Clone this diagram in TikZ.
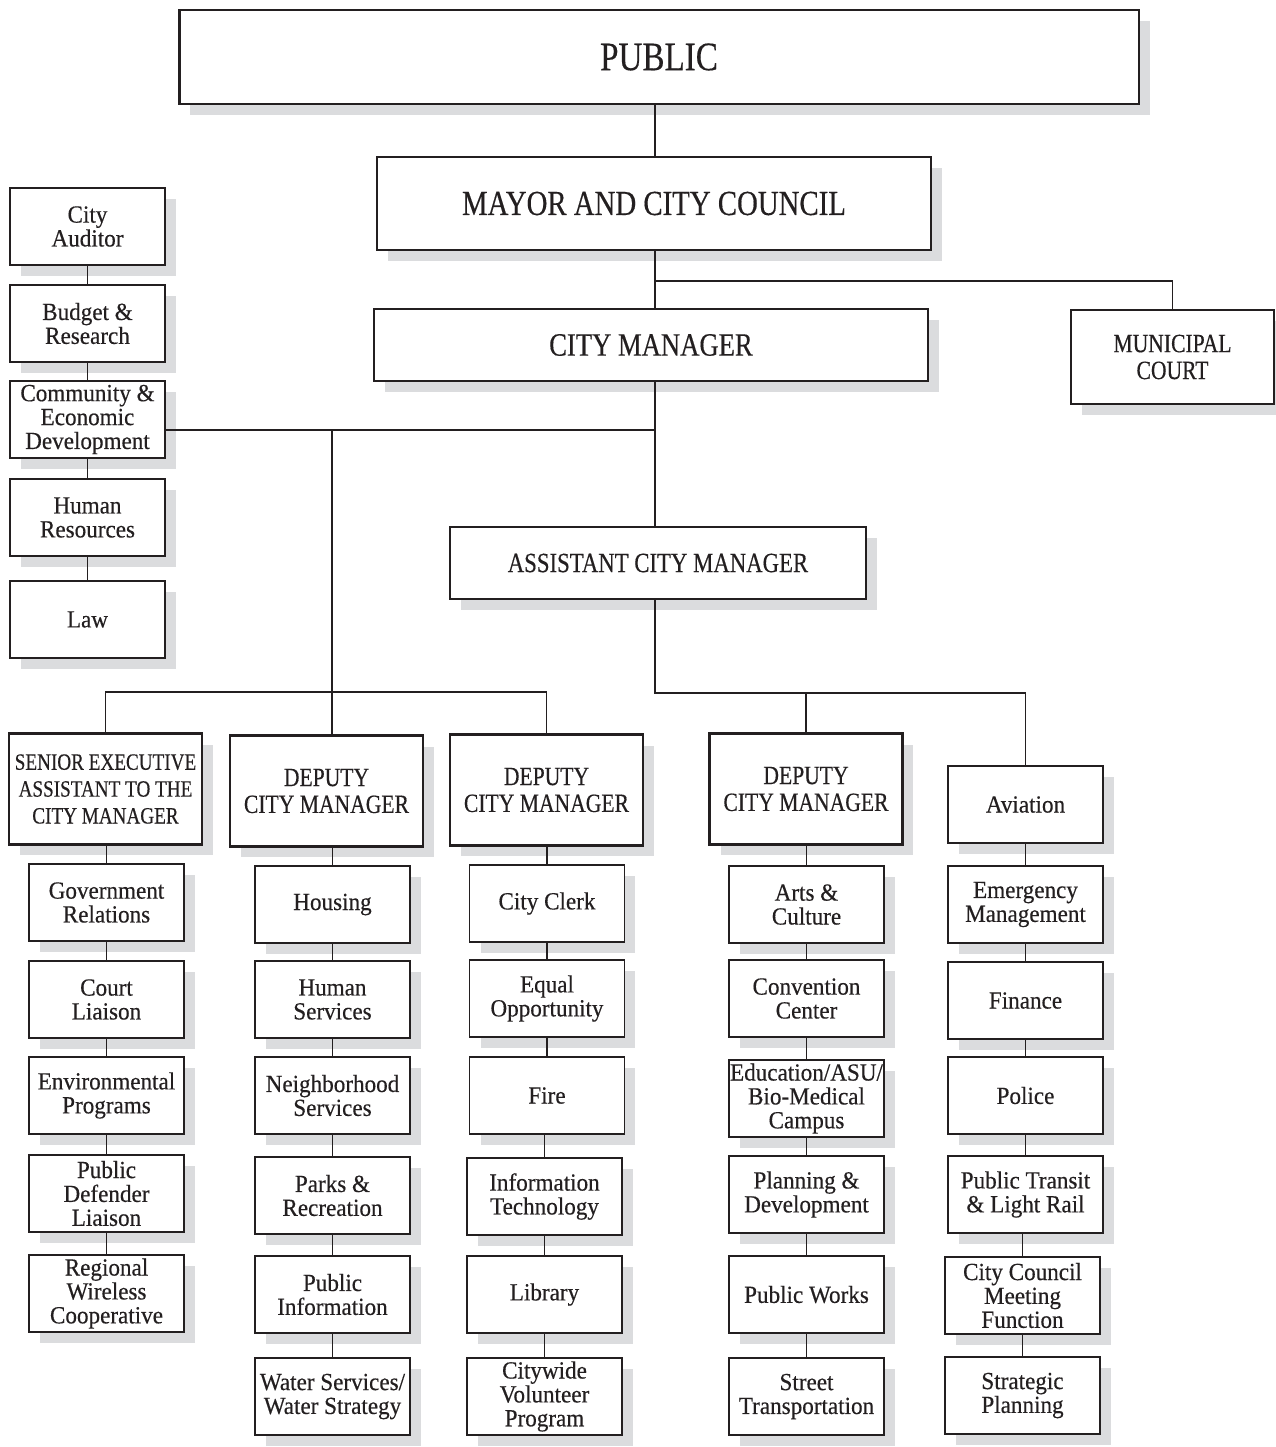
\documentclass[tikz,border=0pt]{standalone}
\usepackage{fontspec}
\setmainfont{Liberation Serif}[FakeStretch=0.94, FakeBold=0.35]
\newfontfamily\capsfont{Liberation Serif}[FakeStretch=0.82, FakeBold=0.35]
\usetikzlibrary{shadows}
\definecolor{ink}{RGB}{35,31,32}
\definecolor{shade}{RGB}{219,220,222}
\tikzset{
	office/.style={draw=ink, line width=0.95pt, fill=white, text=ink, inner sep=0pt, align=center,
		minimum width=3.1cm, minimum height=1.54cm, font=\fontsize{14}{13.6}\selectfont,
		drop shadow={shadow xshift=0.22cm, shadow yshift=-0.22cm, fill=shade, opacity=1}},
	chief/.style={office, line width=1.6pt, minimum width=3.86cm, minimum height=2.22cm,
		font=\capsfont\fontsize{15}{15.3}\selectfont},
	wire/.style={draw=ink, line width=0.75pt},
}

\begin{document}
\begin{tikzpicture}[x=0.02cm, y=-0.02cm]
			%%%%% START %%%%%
			
			\useasboundingbox (0,0) rectangle (1275,1447);
			
			% top of the chart
			\node[chief, minimum width=19.2cm, minimum height=1.88cm, font=\capsfont\fontsize{23}{24}\selectfont] (public) at (659,57) {PUBLIC};
			\node[chief, minimum width=11.08cm, minimum height=1.86cm, font=\capsfont\fontsize{20}{22}\selectfont] (mayor) at (654,203.5) {MAYOR AND CITY COUNCIL};
			\node[chief, minimum width=11.08cm, minimum height=1.44cm, font=\capsfont\fontsize{18.5}{20}\selectfont] (citymgr) at (651,345) {CITY MANAGER};
			\node[chief, minimum width=4.06cm, minimum height=1.88cm] (court) at (1172.5,357) {MUNICIPAL\\COURT};
			\node[chief, minimum width=8.32cm, minimum height=1.44cm, font=\capsfont\fontsize{15.8}{17}\selectfont] (asstmgr) at (658,563) {ASSISTANT CITY MANAGER};
			
			% left column
			\node[office] (auditor) at (87.5,226.5) {City\\Auditor};
			\node[office] (budget) at (87.5,323.5) {Budget \&\\Research};
			\node[office] (ced) at (87.5,419.5) {Community \&\\Economic\\Development};
			\node[office] (hr) at (87.5,517.5) {Human\\Resources};
			\node[office] (law) at (87.5,619.5) {Law};
			
			% second level
			\node[chief, font=\capsfont\fontsize{13.3}{15.3}\selectfont] (senior) at (105.5,789) {SENIOR EXECUTIVE\\ASSISTANT TO THE\\CITY MANAGER};
			\node[chief] (deputyA) at (326.5,791) {DEPUTY\\CITY MANAGER};
			\node[chief] (deputyB) at (546.5,790) {DEPUTY\\CITY MANAGER};
			\node[chief] (deputyC) at (806,789) {DEPUTY\\CITY MANAGER};
			\node[office] (aviation) at (1025.5,804.5) {Aviation};
			
			% departments
			\node[office] (govrel) at (106.5,902.5) {Government\\Relations};
			\node[office] (courtlia) at (106.5,999.5) {Court\\Liaison};
			\node[office] (environ) at (106.5,1095.5) {Environmental\\Programs};
			\node[office] (defender) at (106.5,1193.5) {Public\\Defender\\Liaison};
			\node[office] (wireless) at (106.5,1293.5) {Regional\\Wireless\\Cooperative};
			
			\node[office] (housing) at (332.5,904.5) {Housing};
			\node[office] (humserv) at (332.5,999.5) {Human\\Services};
			\node[office] (neighbor) at (332.5,1095.5) {Neighborhood\\Services};
			\node[office] (parks) at (332.5,1195.5) {Parks \&\\Recreation};
			\node[office] (pubinfo) at (332.5,1294.5) {Public\\Information};
			\node[office] (water) at (332.5,1396.5) {Water Services/\\Water Strategy};
			
			\node[office] (clerk) at (547,903.5) {City Clerk};
			\node[office] (equal) at (547,998.5) {Equal\\Opportunity};
			\node[office] (fire) at (547,1095.5) {Fire};
			\node[office] (infotech) at (544.5,1196.5) {Information\\Technology};
			\node[office] (library) at (544.5,1294.5) {Library};
			\node[office] (volunteer) at (544.5,1396.5) {Citywide\\Volunteer\\Program};
			
			\node[office] (arts) at (806.5,904.5) {Arts \&\\Culture};
			\node[office] (convention) at (806.5,998.5) {Convention\\Center};
			\node[office] (education) at (806.5,1098.5) {Education/ASU/\\Bio-Medical\\Campus};
			\node[office] (planning) at (806.5,1194.5) {Planning \&\\Development};
			\node[office] (pubworks) at (806.5,1294.5) {Public Works};
			\node[office] (street) at (806.5,1396.5) {Street\\Transportation};
			
			\node[office] (emergency) at (1025.5,904.5) {Emergency\\Management};
			\node[office] (finance) at (1025.5,1000.5) {Finance};
			\node[office] (police) at (1025.5,1095.5) {Police};
			\node[office] (transit) at (1025.5,1194.5) {Public Transit\\\& Light Rail};
			\node[office] (meeting) at (1022.5,1295.5) {City Council\\Meeting\\Function};
			\node[office] (strategic) at (1022.5,1395.5) {Strategic\\Planning};
			
			% forks
			\coordinate (trunk) at (655,281);
			\coordinate (westfork) at (655,430);
			\coordinate (deputyfork) at (332,692);
			\coordinate (eastfork) at (655,693);
			
			\draw[wire] (public.south -| trunk) -- (mayor.north -| trunk);
			\draw[wire] (mayor.south -| trunk) -- (citymgr.north -| trunk);
			\draw[wire] (trunk) -| (court.north);
			\draw[wire] (citymgr.south -| westfork) -- (asstmgr.north -| westfork);
			\draw[wire] (ced.east |- westfork) -- (westfork);
			\draw[wire] (westfork -| deputyfork) -- (deputyA.north -| deputyfork);
			\draw[wire] (senior.north) |- (deputyfork) -| (deputyB.north);
			\draw[wire] (asstmgr.south -| eastfork) -- (eastfork) -| (aviation.north);
			\draw[wire] (deputyC.north) -- (deputyC.north |- eastfork);
			
			\draw[wire] (auditor.south) -- (budget.north);
			\draw[wire] (budget.south) -- (ced.north);
			\draw[wire] (ced.south) -- (hr.north);
			\draw[wire] (hr.south) -- (law.north);
			
			\draw[wire] (govrel.north) -- (govrel.north |- senior.south);
			\draw[wire] (courtlia.north) -- (courtlia.north |- govrel.south);
			\draw[wire] (environ.north) -- (environ.north |- courtlia.south);
			\draw[wire] (defender.north) -- (defender.north |- environ.south);
			\draw[wire] (wireless.north) -- (wireless.north |- defender.south);
			
			\draw[wire] (housing.north) -- (housing.north |- deputyA.south);
			\draw[wire] (humserv.north) -- (humserv.north |- housing.south);
			\draw[wire] (neighbor.north) -- (neighbor.north |- humserv.south);
			\draw[wire] (parks.north) -- (parks.north |- neighbor.south);
			\draw[wire] (pubinfo.north) -- (pubinfo.north |- parks.south);
			\draw[wire] (water.north) -- (water.north |- pubinfo.south);
			
			\draw[wire] (clerk.north) -- (clerk.north |- deputyB.south);
			\draw[wire] (equal.north) -- (equal.north |- clerk.south);
			\draw[wire] (fire.north) -- (fire.north |- equal.south);
			\draw[wire] (infotech.north) -- (infotech.north |- fire.south);
			\draw[wire] (library.north) -- (library.north |- infotech.south);
			\draw[wire] (volunteer.north) -- (volunteer.north |- library.south);
			
			\draw[wire] (arts.north) -- (arts.north |- deputyC.south);
			\draw[wire] (convention.north) -- (convention.north |- arts.south);
			\draw[wire] (education.north) -- (education.north |- convention.south);
			\draw[wire] (planning.north) -- (planning.north |- education.south);
			\draw[wire] (pubworks.north) -- (pubworks.north |- planning.south);
			\draw[wire] (street.north) -- (street.north |- pubworks.south);
			
			\draw[wire] (emergency.north) -- (emergency.north |- aviation.south);
			\draw[wire] (finance.north) -- (finance.north |- emergency.south);
			\draw[wire] (police.north) -- (police.north |- finance.south);
			\draw[wire] (transit.north) -- (transit.north |- police.south);
			\draw[wire] (meeting.north) -- (meeting.north |- transit.south);
			\draw[wire] (strategic.north) -- (strategic.north |- meeting.south);
			
			%%%%% END %%%%%
\end{tikzpicture}
\end{document}
